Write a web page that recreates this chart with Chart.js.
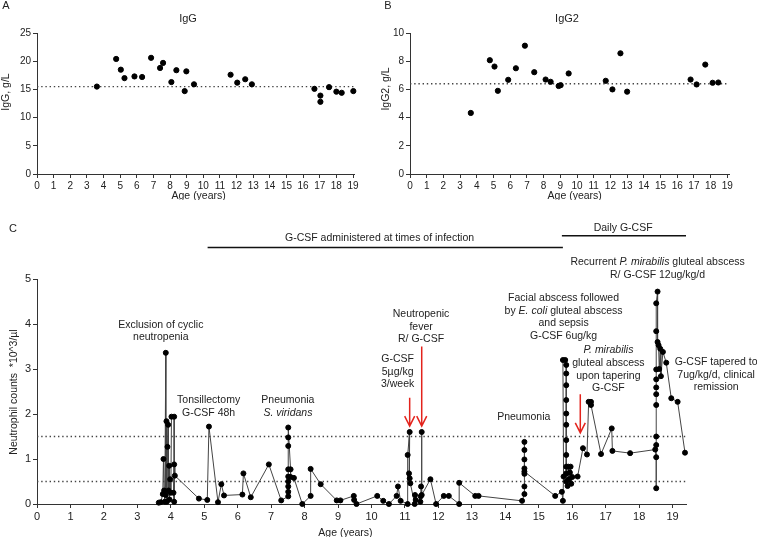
<!DOCTYPE html>
<html>
<head>
<meta charset="utf-8">
<script src="https://cdn.jsdelivr.net/npm/chart.js@4.4.0/dist/chart.umd.min.js"></script>
<style>
body{margin:0;background:#fff;width:757px;height:537px;position:relative;overflow:hidden}
canvas{position:absolute}
</style>
</head>
<body>
<canvas id="chartA" width="378" height="200" style="left:0;top:0"></canvas>
<canvas id="chartB" width="379" height="200" style="left:378px;top:0"></canvas>
<canvas id="chartC" width="757" height="337" style="left:0;top:200px"></canvas>
<script>
const FF='"Liberation Sans", Arial, Helvetica, sans-serif'
const INK='#222'

const ageTicks=[0,1,2,3,4,5,6,7,8,9,10,11,12,13,14,15,16,17,18,19]

// A: IgG
const iggAge=[3.6,4.76,5.04,5.26,5.86,6.32,6.86,7.4,7.58,8.08,8.38,8.98,8.88,9.44,11.64,12.04,12.52,12.92,16.68,17.04,17.04,17.56,18.0,18.32,19.02]
const iggVal=[15.5,20.4,18.5,17.0,17.3,17.2,20.6,18.8,19.7,16.3,18.4,18.2,14.7,15.9,17.6,16.2,16.8,15.9,15.1,13.9,12.8,15.4,14.6,14.4,14.7]
const iggTicks=[0,5,10,15,20,25]
const iggRef=15.5

// B: IgG2
const igg2Age=[3.64,4.78,5.06,5.26,5.88,6.34,6.88,7.44,8.12,8.42,8.9,9.02,9.5,11.72,12.12,12.6,13.0,16.8,17.16,17.68,18.12,18.46]
const igg2Val=[4.33,8.07,7.62,5.9,6.68,7.5,9.1,7.22,6.7,6.54,6.24,6.3,7.13,6.61,6.0,8.56,5.84,6.7,6.35,7.76,6.47,6.49]
const igg2Ticks=[0,2,4,6,8,10]
const igg2Ref=6.4

// C: neutrophil counts
const ancAge=[3.64,3.70,3.76,3.78,3.80,3.82,3.85,3.85,3.87,3.88,3.90,3.92,3.93,3.95,3.96,3.98,4.00,4.02,4.10,4.10,4.08,4.10,4.12,
4.84,5.09,5.14,5.41,5.51,5.59,6.14,6.17,6.39,6.93,7.30,
7.51,7.51,7.51,7.51,7.51,7.51,7.51,7.51,7.51,7.58,7.58,7.68,7.93,8.18,8.18,8.48,8.96,9.07,9.47,9.48,9.55,
10.17,10.35,10.52,10.75,10.79,10.87,11.08,11.08,11.14,11.12,11.14,11.16,11.29,11.30,11.32,11.46,11.47,11.48,11.50,11.50,11.76,11.93,
12.16,12.31,12.62,12.62,13.10,13.20,14.50,14.57,14.57,14.57,14.57,14.57,14.57,14.57,14.57,15.49,15.69,15.72,15.74,15.72,15.79,
15.82,15.82,15.82,15.82,15.82,15.82,15.82,15.82,15.82,15.82,15.82,15.86,15.88,15.90,15.93,15.95,15.97,16.00,16.16,16.32,16.44,
16.49,16.56,16.56,16.86,17.18,17.20,17.73,18.48,18.51,18.51,18.51,18.51,18.51,18.51,18.51,18.51,18.51,18.51,18.51,18.55,18.55,
18.58,18.60,18.63,18.65,18.71,18.81,18.96,19.15,19.37]
const ancVal=[0.03,0.04,0.22,1.0,0.3,0.05,3.36,0.2,1.84,0.05,1.27,1.76,0.3,0.85,0.1,0.55,0.25,1.94,1.94,0.05,0.25,0.88,0.63,
0.12,0.09,1.72,0.04,0.44,0.19,0.21,0.68,0.15,0.88,0.08,
0.17,0.27,0.39,0.5,0.61,0.77,1.29,1.48,1.70,0.77,0.6,0.58,0,0.18,0.78,0.44,0.08,0.08,0.18,0.09,0,
0.18,0.07,0,0.18,0.39,0.07,0,1.09,1.6,0.68,0.57,0.46,0,0.2,0.09,0.05,0.17,0.39,1.6,0.2,0.55,0,
0.18,0.18,0,0.47,0.18,0.18,0.07,0.22,0.39,0.67,0.79,0.99,1.2,1.38,0.72,0.18,0.27,0.07,0.61,3.2,3.2,
3.09,2.9,2.64,2.31,2.01,1.76,1.42,1.09,0.83,0.68,0.5,0.4,0.83,0.55,0.7,0.83,0.45,0.6,0.61,1.24,1.1,
2.27,2.27,2.2,1.11,1.68,1.18,1.13,1.21,1.04,0.35,1.31,1.5,2.2,2.44,2.59,2.77,2.99,3.84,4.46,4.72,3.6,
3.53,3.0,3.45,2.84,3.38,3.14,2.35,2.27,1.14]
const ancTicks=[0,1,2,3,4,5]
const ancRefs=[0.5,1.5]

const notes=[
{x:3.7,y:3.98,lines:['Exclusion of cyclic','neutropenia']},
{x:5.13,y:2.31,lines:['Tonsillectomy','G-CSF 48h']},
{x:7.5,y:2.31,lines:['Pneumonia','_S. viridans_']},
{x:10.78,y:3.22,lines:['G-CSF','5µg/kg','3/week']},
{x:11.48,y:4.22,lines:['Neutropenic','fever','R/ G-CSF']},
{x:14.55,y:1.93,lines:['Pneumonia']},
{x:15.74,y:4.57,lines:['Facial abscess followed','by _E. coli_ gluteal abscess','and sepsis','G-CSF 6ug/kg']},
{x:17.08,y:3.41,lines:['_P. mirabilis_','gluteal abscess','upon tapering','G-CSF']},
{x:18.55,y:5.37,lines:['Recurrent _P. mirabilis_ gluteal abscess','R/ G-CSF 12ug/kg/d']},
{x:20.3,y:3.15,lines:['G-CSF tapered to','7ug/kg/d, clinical','remission']}
]
const arrows=[{x:11.14,from:2.36,to:1.73},{x:11.5,from:3.5,to:1.73},{x:16.24,from:2.44,to:1.58}]
const bars=[
{x1:5.1,x2:15.72,y:5.70,label:'G-CSF administered at times of infection',lx:10.24,ly:5.91},
{x1:15.69,x2:19.4,y:5.96,label:'Daily G-CSF',lx:17.52,ly:6.14}
]

function richLine(ctx,str,cx,cy,size){
  const segs=str.split('_').map((t,i)=>({t,i:i%2==1}))
  let w=0
  segs.forEach(s=>{ctx.font=(s.i?'italic ':'')+size+'px '+FF;w+=ctx.measureText(s.t).width})
  let x=cx-w/2
  ctx.textAlign='left'
  segs.forEach(s=>{ctx.font=(s.i?'italic ':'')+size+'px '+FF;ctx.fillText(s.t,x,cy);x+=ctx.measureText(s.t).width})
  ctx.textAlign='center'
}

function makeDeco(cfg){
  return {
    id:'deco',
    afterDraw(chart){
      const ctx=chart.ctx,xs=chart.scales.x,ys=chart.scales.y
      ctx.save()
      ctx.fillStyle=INK
      ctx.textAlign='center'
      ctx.textBaseline='middle'
      ctx.font='11px '+FF
      ctx.fillText(cfg.letter,cfg.letterX,cfg.letterY)
      if(cfg.title) ctx.fillText(cfg.title,cfg.titleX,19)
      ctx.font='10.5px '+FF
      ctx.fillText('Age (years)',xs.getPixelForValue(cfg.xTitleAt),cfg.xTitleY)
      ctx.save()
      ctx.translate(cfg.yTitleX,cfg.yTitleY)
      ctx.rotate(-Math.PI/2)
      ctx.fillText(cfg.yTitle,0,0)
      ctx.restore()
      if(cfg.notes){
        cfg.notes.forEach(n=>{
          const cx=xs.getPixelForValue(n.x),cy=ys.getPixelForValue(n.y)
          n.lines.forEach((l,i)=>richLine(ctx,l,cx,cy+i*12.6,10.5))
        })
        ctx.strokeStyle='#e3231c'
        ctx.lineWidth=1.5
        arrows.forEach(a=>{
          const x=xs.getPixelForValue(a.x),y1=ys.getPixelForValue(a.from),y2=ys.getPixelForValue(a.to)
          ctx.beginPath()
          ctx.moveTo(x,y1);ctx.lineTo(x,y2)
          ctx.moveTo(x-5,y2-10);ctx.lineTo(x,y2);ctx.lineTo(x+5,y2-10)
          ctx.stroke()
        })
        ctx.strokeStyle='#111'
        ctx.lineWidth=1.5
        bars.forEach(b=>{
          const y=ys.getPixelForValue(b.y)
          ctx.beginPath()
          ctx.moveTo(xs.getPixelForValue(b.x1),y);ctx.lineTo(xs.getPixelForValue(b.x2),y)
          ctx.stroke()
          ctx.font='10.5px '+FF
          ctx.fillText(b.label,xs.getPixelForValue(b.lx),ys.getPixelForValue(b.ly))
        })
      }
      ctx.restore()
    }
  }
}

function axes(xMax,yTicks,yWidth,xHeight,tickFont,tl){
  return {
    x:{type:'linear',min:0,max:xMax,
      afterBuildTicks:s=>{s.ticks=ageTicks.map(v=>({value:v}))},
      afterFit:s=>{s.height=xHeight},
      border:{color:'#333',width:1},
      grid:{drawOnChartArea:false,tickLength:tl,color:'#333'},
      ticks:{color:INK,font:{family:FF,size:tickFont},padding:2,maxRotation:0,autoSkip:false}
    },
    y:{type:'linear',min:yTicks[0],max:yTicks[yTicks.length-1],
      afterBuildTicks:s=>{s.ticks=yTicks.map(v=>({value:v}))},
      afterFit:s=>{s.width=yWidth},
      border:{color:'#333',width:1},
      grid:{drawOnChartArea:false,tickLength:tl,color:'#333'},
      ticks:{color:INK,font:{family:FF,size:tickFont},padding:2}
    }
  }
}

function refLine(v,xMax){
  return {data:[{x:0,y:v},{x:xMax,y:v}],showLine:true,borderColor:'#444',borderWidth:1.4,borderDash:[1.4,2.8],pointRadius:0,clip:false}
}

function smallPanel(id,ages,vals,ref,yTicks,yWidth,padRight,xMax,deco){
  new Chart(document.getElementById(id),{
    type:'scatter',
    data:{datasets:[
      {data:ages.map((a,i)=>({x:a,y:vals[i]})),backgroundColor:'#000',borderColor:'#000',pointRadius:2.6,pointHoverRadius:2.6,clip:false},
      refLine(ref,xMax)
    ]},
    options:{responsive:false,animation:false,
      layout:{padding:{top:33,right:padRight,left:0,bottom:0}},
      plugins:{legend:{display:false},tooltip:{enabled:false}},
      scales:axes(xMax,yTicks,yWidth,26,10,4)
    },
    plugins:[makeDeco(deco)]
  })
}

smallPanel('chartA',iggAge,iggVal,iggRef,iggTicks,37,24,19.06,
  {letter:'A',letterX:6,letterY:6,title:'IgG',titleX:188,xTitleAt:9.72,xTitleY:196,yTitle:'IgG, g/L',yTitleX:6,yTitleY:92})
smallPanel('chartB',igg2Age,igg2Val,igg2Ref,igg2Ticks,32,28,19.1,
  {letter:'B',letterX:10,letterY:6,title:'IgG2',titleX:189,xTitleAt:9.86,xTitleY:196,yTitle:'IgG2, g/L',yTitleX:8,yTitleY:89})

new Chart(document.getElementById('chartC'),{
  type:'scatter',
  data:{datasets:[
    {data:ancAge.map((a,i)=>({x:a,y:ancVal[i]})),showLine:true,borderColor:'#444',borderWidth:1,
      pointBackgroundColor:'#000',pointBorderColor:'#000',pointRadius:2.5,pointHoverRadius:2.5,clip:false},
    ...ancRefs.map(v=>refLine(v,19.4))
  ]},
  options:{responsive:false,animation:false,
    layout:{padding:{top:79,right:71,left:0,bottom:0}},
    plugins:{legend:{display:false},tooltip:{enabled:false}},
    scales:axes(19.4,ancTicks,37,33,11,4)
  },
  plugins:[makeDeco({letter:'C',letterX:13,letterY:29,xTitleAt:9.22,xTitleY:333,
    yTitle:'Neutrophil counts  *10^3/µl',yTitleX:14,yTitleY:192,notes})]
})
</script>
</body>
</html>
